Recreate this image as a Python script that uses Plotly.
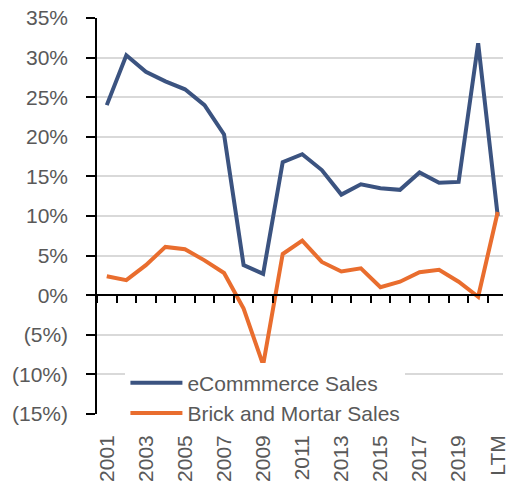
import plotly.graph_objects as go

categories = [str(y) for y in range(2001, 2021)] + ["LTM"]
ecommerce = [24.0, 30.3, 28.2, 27.0, 26.0, 24.0, 20.3, 3.8, 2.7, 16.8, 17.8, 15.8,
             12.7, 14.0, 13.5, 13.3, 15.5, 14.2, 14.3, 31.8, 10.0]
brick = [2.4, 1.9, 3.8, 6.1, 5.8, 4.4, 2.8, -1.7, -8.8, 5.2, 6.9, 4.2,
         3.0, 3.4, 1.0, 1.7, 2.9, 3.2, 1.7, -0.2, 10.5]
y_ticks = [-15, -10, -5, 0, 5, 10, 15, 20, 25, 30, 35]
y_labels = [f"({abs(v)}%)" if v < 0 else f"{v}%" for v in y_ticks]
x_tickvals = categories[::2]

FONT = "Liberation Sans, Arial, sans-serif"
GRAY = "#595959"
BLUE = "#3B5380"
ORANGE = "#E96D2E"

fig = go.Figure()
fig.add_trace(go.Scatter(x=categories, y=ecommerce, mode="lines", name="eCommmerce Sales",
                         line=dict(color=BLUE, width=4)))
fig.add_trace(go.Scatter(x=categories, y=brick, mode="lines", name="Brick and Mortar Sales",
                         line=dict(color=ORANGE, width=4)))
# invisible helper trace so the zero-line tick axis (x2) is drawn
n = len(categories)
fig.add_trace(go.Scatter(x=list(range(n)), y=brick, xaxis="x2", mode="lines",
                         line=dict(width=0), opacity=0, showlegend=False,
                         hoverinfo="skip"))

x_range = [-0.5, 20.27]
fig.update_layout(
    width=508, height=483,
    margin=dict(l=97, r=0, t=18, b=69),
    paper_bgcolor="white", plot_bgcolor="white",
    font=dict(family=FONT, size=21, color=GRAY),
    showlegend=True,
    legend=dict(x=0.07, y=0.13, xanchor="left", yanchor="top",
                bgcolor="white", borderwidth=0,
                font=dict(family=FONT, size=21, color=GRAY),
                itemwidth=52, tracegroupgap=0),
    xaxis=dict(type="category", range=x_range, tickmode="array",
               tickvals=x_tickvals, ticktext=x_tickvals, tickangle=-90,
               ticks="", showline=False, showgrid=False, zeroline=False,
               ticklabelstandoff=16, tickfont=dict(size=21, color=GRAY)),
    xaxis2=dict(overlaying="x", anchor="free", position=0.3, range=x_range,
                tickmode="array", tickvals=[i - 0.5 for i in range(n + 1)],
                showticklabels=False, ticks="outside", ticklen=7, tickwidth=1.5,
                tickcolor="black", showline=True, linecolor="black", linewidth=1.5,
                showgrid=False, zeroline=False),
    yaxis=dict(range=[-15, 35], tickmode="array", tickvals=y_ticks, ticktext=y_labels,
               showgrid=True, gridcolor="#D9D9D9", gridwidth=1.5,
               zeroline=False, showline=True, linecolor="black", linewidth=1.5,
               ticks="outside", ticklen=9, tickwidth=1.5, tickcolor="black",
               ticklabelstandoff=14, tickfont=dict(size=21, color=GRAY)),
)
fig.write_html("out.html", config={"displayModeBar": False},
               post_script="document.body.style.margin='0';")
